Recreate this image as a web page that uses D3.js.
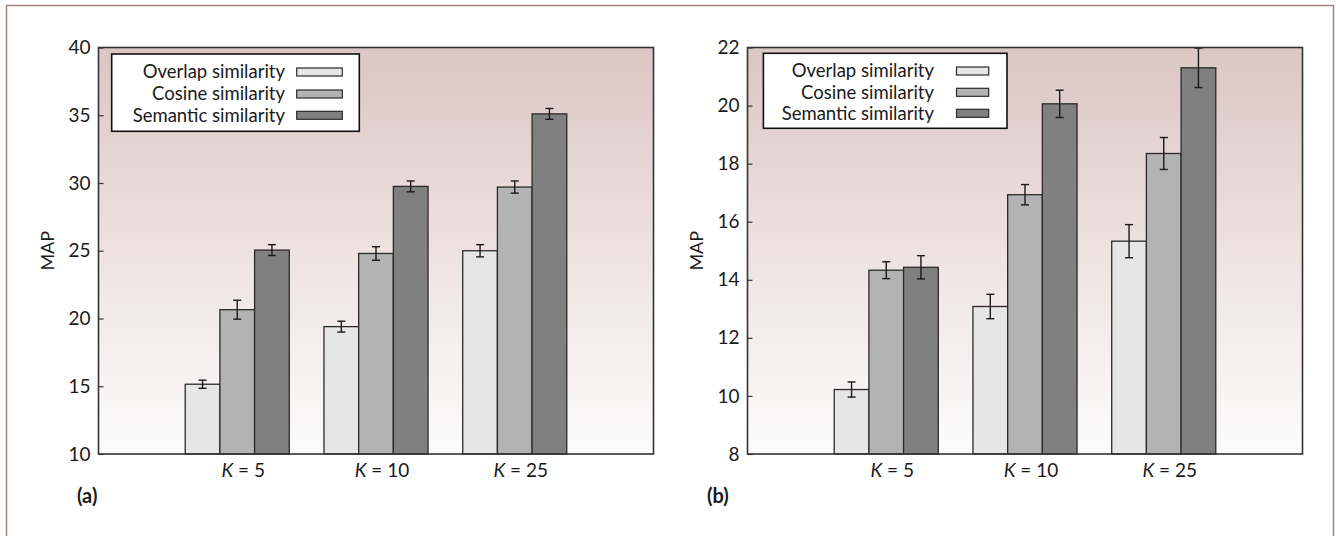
<!DOCTYPE html>
<html>
<head>
<meta charset="utf-8">
<script src="https://cdn.jsdelivr.net/npm/d3@7"></script>
<style>
    body { margin: 0; background: #fff; }
    text { font-family: Lato, "Open Sans", sans-serif; fill: #1a1a1a; }
</style>
</head>
<body>
<svg width="1336" height="536"></svg>
<script>
(function () {

    // ---- data ----
    var kValues = [5, 10, 25];
    var seriesNames = ["Overlap similarity", "Cosine similarity", "Semantic similarity"];
    var seriesColors = ["#e6e6e6", "#b3b3b3", "#808080"];

    // panel (a): rows = series, cols = K
    var mapA = [[15.15, 19.4, 25.0], [20.65, 24.8, 29.7], [25.05, 29.75, 35.1]];
    var errA = [[0.3, 0.4, 0.45], [0.7, 0.5, 0.45], [0.4, 0.4, 0.4]];
    var ticksA = [10, 15, 20, 25, 30, 35, 40];

    // panel (b)
    var mapB = [[10.22, 13.08, 15.33], [14.33, 16.93, 18.35], [14.43, 20.06, 21.3]];
    var errB = [[0.26, 0.42, 0.57], [0.29, 0.35, 0.55], [0.4, 0.47, 0.68]];
    var ticksB = [8, 10, 12, 14, 16, 18, 20, 22];

    var svg = d3.select("svg");

    var defs = svg.append("defs");
    var grad = defs.append("linearGradient")
        .attr("id", "bg")
        .attr("x1", 0).attr("y1", 0).attr("x2", 0).attr("y2", 1);
    grad.append("stop").attr("offset", "0%").attr("stop-color", "#dbc6c3");
    grad.append("stop").attr("offset", "55%").attr("stop-color", "#efe5e4");
    grad.append("stop").attr("offset", "100%").attr("stop-color", "#fcfcfc");

    // outer figure frame (top, left, right)
    svg.append("path")
        .attr("d", "M6.5,536V5.5H1333.5V536")
        .attr("fill", "none")
        .attr("stroke", "#a88080")
        .attr("stroke-width", 1.5);

    drawPanel({
        left: 98.5, values: mapA, errors: errA, ticks: ticksA, yDomain: [10, 40],
        tag: "(a)", tagX: 77,
        legend: {x: 111.7, y: 54, w: 247.6, h: 77.3, textX: 285, swX: 296.7, swW: 45.6, rows: [72, 94, 115.3]}
    });

    drawPanel({
        left: 747.5, values: mapB, errors: errB, ticks: ticksB, yDomain: [8, 22],
        tag: "(b)", tagX: 707,
        legend: {x: 763.4, y: 53.3, w: 243.6, h: 75, textX: 934, swX: 956.5, swW: 32.2, rows: [71, 92.3, 113.3]}
    });

    function drawPanel(opts) {
        var top = 47.5, bottom = 454, width = 555;
        var g = svg.append("g");

        var x = d3.scaleLinear().domain([0, kValues.length + 1]).range([opts.left, opts.left + width]);
        var y = d3.scaleLinear().domain(opts.yDomain).range([bottom, top]);
        var groupW = (x(1) - x(0)) * 0.75;
        var inner = d3.scaleBand().domain(d3.range(seriesNames.length)).range([-groupW / 2, groupW / 2]);

        g.append("rect")
            .attr("x", x(0)).attr("y", top)
            .attr("width", width).attr("height", bottom - top)
            .attr("fill", "url(#bg)");

        var cells = [];
        opts.values.forEach(function (row, s) {
            row.forEach(function (v, k) {
                cells.push({s: s, k: k, v: v, e: opts.errors[s][k]});
            });
        });

        g.selectAll(".bar")
            .data(cells)
            .enter().append("rect")
            .attr("class", "bar")
            .attr("x", d => x(d.k + 1) + inner(d.s))
            .attr("y", d => y(d.v))
            .attr("width", inner.bandwidth())
            .attr("height", d => bottom - y(d.v))
            .attr("fill", d => seriesColors[d.s])
            .attr("stroke", "#2a2a2a")
            .attr("stroke-width", 1.3);

        var eb = g.selectAll(".err")
            .data(cells)
            .enter().append("g")
            .attr("class", "err")
            .attr("transform", d => "translate(" + (x(d.k + 1) + inner(d.s) + inner.bandwidth() / 2) + ",0)")
            .attr("stroke", "#1a1a1a")
            .attr("stroke-width", 1.4);
        eb.append("line")
            .attr("y1", d => y(d.v - d.e)).attr("y2", d => y(d.v + d.e));
        eb.append("line")
            .attr("x1", -4).attr("x2", 4)
            .attr("y1", d => y(d.v + d.e)).attr("y2", d => y(d.v + d.e));
        eb.append("line")
            .attr("x1", -4).attr("x2", 4)
            .attr("y1", d => y(d.v - d.e)).attr("y2", d => y(d.v - d.e));

        // plot box
        g.append("rect")
            .attr("x", x(0)).attr("y", top)
            .attr("width", width).attr("height", bottom - top)
            .attr("fill", "none")
            .attr("stroke", "#333")
            .attr("stroke-width", 1.6);

        var axis = d3.axisLeft(y)
            .tickValues(opts.ticks)
            .tickSizeInner(-5)
            .tickSizeOuter(0)
            .tickPadding(8);
        var ax = g.append("g")
            .attr("transform", "translate(" + x(0) + ",0)")
            .call(axis);
        ax.select(".domain").remove();
        ax.selectAll(".tick line").attr("stroke", "#333").attr("stroke-width", 1.2);
        ax.selectAll(".tick text")
            .attr("font-size", 19)
            .attr("fill", "#1a1a1a");

        g.append("text")
            .attr("transform", "translate(" + (x(0) - 51) + "," + ((top + bottom) / 2) + ") rotate(-90)")
            .attr("text-anchor", "middle")
            .attr("dy", "0.35em")
            .attr("font-size", 18)
            .text("MAP");

        var kl = g.selectAll(".klabel")
            .data(kValues)
            .enter().append("text")
            .attr("class", "klabel")
            .attr("x", (d, i) => x(i + 1) + 6)
            .attr("y", 477)
            .attr("text-anchor", "middle")
            .attr("font-size", 19);
        kl.append("tspan").attr("font-style", "italic").text("K");
        kl.append("tspan").text(d => " = " + d);

        g.append("text")
            .attr("x", opts.tagX)
            .attr("y", 503)
            .attr("font-size", 20)
            .attr("font-weight", "bold")
            .text(opts.tag);

        // legend
        var L = opts.legend;
        var lg = g.append("g");
        lg.append("rect")
            .attr("x", L.x).attr("y", L.y)
            .attr("width", L.w).attr("height", L.h)
            .attr("fill", "#fff")
            .attr("stroke", "#111")
            .attr("stroke-width", 1.6);
        var items = lg.selectAll(".item")
            .data(seriesNames)
            .enter().append("g")
            .attr("class", "item");
        items.append("text")
            .attr("x", L.textX)
            .attr("y", (d, i) => L.rows[i])
            .attr("dy", "0.35em")
            .attr("text-anchor", "end")
            .attr("font-size", 18.5)
            .text(d => d);
        items.append("rect")
            .attr("x", L.swX)
            .attr("y", (d, i) => L.rows[i] - 4)
            .attr("width", L.swW)
            .attr("height", 8)
            .attr("fill", (d, i) => seriesColors[i])
            .attr("stroke", "#2a2a2a")
            .attr("stroke-width", 1.2);
    }

})();
</script>
</body>
</html>
